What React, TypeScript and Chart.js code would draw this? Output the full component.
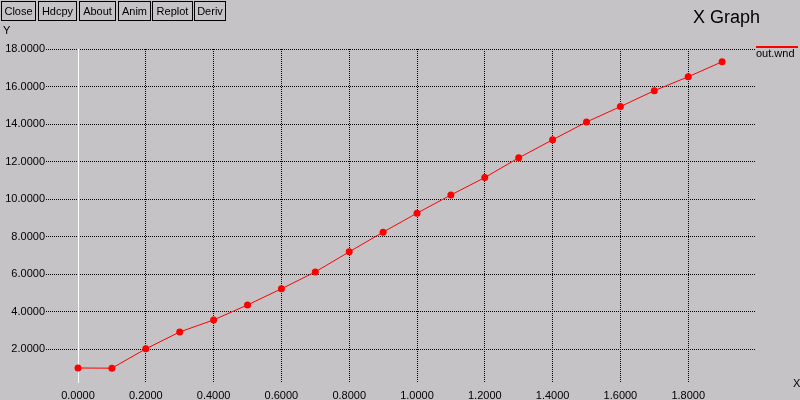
import React, { useEffect, useRef } from "react";
import { Chart, registerables } from "chart.js";

Chart.register(...registerables);

const xValues = [0.0, 0.1, 0.2, 0.3, 0.4, 0.5, 0.6, 0.7, 0.8, 0.9, 1.0, 1.1, 1.2, 1.3, 1.4, 1.5, 1.6, 1.7, 1.8, 1.9];
const yValues = [1.0, 0.99, 2.02, 2.92, 3.56, 4.36, 5.22, 6.12, 7.19, 8.24, 9.25, 10.22, 11.15, 12.2, 13.16, 14.11, 14.93, 15.78, 16.52, 17.32];
const xTicks = [0, 0.2, 0.4, 0.6, 0.8, 1.0, 1.2, 1.4, 1.6, 1.8];
const yTicks = [2, 4, 6, 8, 10, 12, 14, 16, 18];
const buttons = ["Close", "Hdcpy", "About", "Anim", "Replot", "Deriv"];
const seriesName = "out.wnd";

const BG = "rgb(197,195,198)";
const FONT = "'Liberation Sans', Arial, sans-serif";

const zeroLinePlugin = {
  id: "zeroLine",
  beforeDatasetsDraw(chart: any) {
    const { ctx, chartArea, scales } = chart;
    const x = Math.round(scales.x.getPixelForValue(0)) + 0.5;
    ctx.save();
    ctx.strokeStyle = "#ffffff";
    ctx.lineWidth = 1;
    ctx.beginPath();
    ctx.moveTo(x, chartArea.top);
    ctx.lineTo(x, chartArea.bottom);
    ctx.stroke();
    ctx.restore();
  },
};

export default function App() {
  const canvasRef = useRef<HTMLCanvasElement | null>(null);

  useEffect(() => {
    if (!canvasRef.current) return;
    const data = xValues.map((x, i) => ({ x, y: yValues[i] }));
    const chart = new Chart(canvasRef.current, {
      type: "scatter",
      data: {
        datasets: [
          {
            label: seriesName,
            data,
            showLine: true,
            borderColor: "#ff0000",
            borderWidth: 1,
            backgroundColor: "#ff0000",
            pointRadius: 3.5,
            pointBorderWidth: 0,
            pointBackgroundColor: "#ff0000",
            clip: false as any,
          },
        ],
      },
      options: {
        responsive: false,
        animation: false,
        events: [],
        layout: { padding: { top: 49, right: 45, left: 0, bottom: 0 } },
        plugins: {
          legend: { display: false },
          title: { display: false },
          tooltip: { enabled: false },
        },
        scales: {
          x: {
            type: "linear",
            min: 0,
            max: 1.997,
            afterFit(scale: any) {
              scale.height = 17;
            },
            afterBuildTicks(scale: any) {
              scale.ticks = xTicks.map((v) => ({ value: v }));
            },
            border: { display: false, dash: [1, 1] },
            grid: {
              color: (c: any) => (c.tick && c.tick.value === 0 ? "rgba(0,0,0,0)" : "#000000"),
              lineWidth: 1,
              drawTicks: false,
            },
            ticks: {
              padding: 6,
              color: "#000000",
              font: { family: FONT, size: 11 },
              maxRotation: 0,
              autoSkip: false,
              callback: (v: any) => Number(v).toFixed(4),
            },
          },
          y: {
            type: "linear",
            min: 0.2,
            max: 18,
            afterFit(scale: any) {
              scale.width = 78;
            },
            afterBuildTicks(scale: any) {
              scale.ticks = yTicks.map((v) => ({ value: v }));
            },
            border: { display: false, dash: [1, 1] },
            grid: {
              color: "#000000",
              lineWidth: 1,
              drawTicks: true,
              tickLength: 32,
              tickColor: "#000000",
              tickBorderDash: [1, 1],
            } as any,
            ticks: {
              padding: 1,
              color: "#000000",
              font: { family: FONT, size: 11 },
              autoSkip: false,
              callback: (v: any) => Number(v).toFixed(4),
            },
          },
        },
      },
      plugins: [zeroLinePlugin],
    });
    return () => chart.destroy();
  }, []);

  const btnLefts = [1, 38, 79, 118, 152, 194];
  const btnWidths = [35, 39, 37, 33, 41, 32];

  return (
    <div
      style={{
        position: "fixed",
        left: 0,
        top: 0,
        width: 800,
        height: 400,
        background: BG,
        overflow: "hidden",
        fontFamily: FONT,
        color: "#000",
      }}
    >
      <canvas ref={canvasRef} width={800} height={400} style={{ position: "absolute", left: 0, top: 0 }} />
      {buttons.map((b, i) => (
        <div
          key={b}
          style={{
            position: "absolute",
            left: btnLefts[i],
            top: 1,
            width: btnWidths[i],
            height: 20,
            boxSizing: "border-box",
            border: "1px solid #000",
            fontSize: 11,
            lineHeight: "18px",
            textAlign: "center",
          }}
        >
          {b}
        </div>
      ))}
      <div style={{ position: "absolute", left: 3, top: 24, fontSize: 11, lineHeight: "12px" }}>Y</div>
      <div style={{ position: "absolute", left: 793, top: 377, fontSize: 11, lineHeight: "12px" }}>X</div>
      <div style={{ position: "absolute", left: 693, top: 6, fontSize: 18, lineHeight: "22px", whiteSpace: "nowrap" }}>
        X Graph
      </div>
      <div style={{ position: "absolute", left: 756, top: 46, width: 42, height: 2, background: "#ff0000" }} />
      <div style={{ position: "absolute", left: 756, top: 47, fontSize: 11, lineHeight: "13px", whiteSpace: "nowrap" }}>
        {seriesName}
      </div>
    </div>
  );
}
